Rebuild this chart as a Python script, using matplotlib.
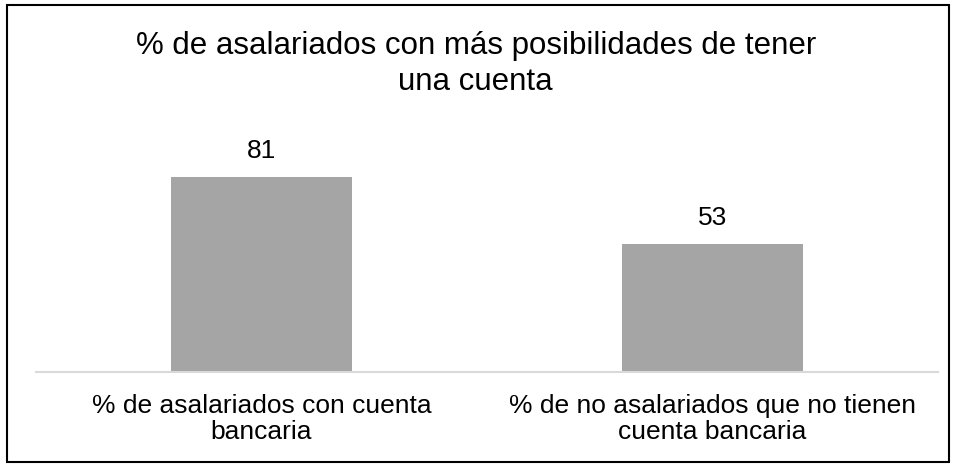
import matplotlib.pyplot as plt
from matplotlib.patches import Rectangle

plt.rcParams["font.family"] = ["Liberation Sans", "DejaVu Sans"]

categories = [
    "% de asalariados con cuenta\nbancaria",
    "% de no asalariados que no tienen\ncuenta bancaria",
]
values = [81, 53]
title = "% de asalariados con más posibilidades de tener\nuna cuenta"

W, H = 957, 466
fig = plt.figure(figsize=(W / 100, H / 100), dpi=100)

# plot area: baseline at y=372 px, from x=36 to x=938 px
ymax = 90
px_per_unit = 2.407
top_px = 372 - ymax * px_per_unit
ax = fig.add_axes([36 / W, 1 - 372 / H, (938 - 36) / W, (372 - top_px) / H])

x = range(len(values))
bars = ax.bar(x, values, width=0.4, color="#A5A5A5", zorder=2)
ax.set_xlim(-0.5, 1.5)
ax.set_ylim(0, ymax)

for rect, v in zip(bars, values):
    ax.annotate(str(v), (rect.get_x() + rect.get_width() / 2, v),
                xytext=(0, 13.7), textcoords="offset points",
                ha="center", va="baseline", fontsize=19, color="#000000")

ax.set_xticks(list(x))
ax.set_xticklabels(categories, fontsize=19, color="#000000", linespacing=1.08)
ax.tick_params(axis="x", length=0, pad=16)
ax.set_yticks([])
for side in ["top", "right", "left"]:
    ax.spines[side].set_visible(False)
ax.spines["bottom"].set_color("#D9D9D9")
ax.spines["bottom"].set_linewidth(1.5)

fig.text(0.497, 1 - 64 / H, title, ha="center", va="center",
         fontsize=22.5, linespacing=1.3, color="#000000")

# outer frame around the chart
fig.patches.append(Rectangle((7.5 / W, 1 - 462 / H), (949 - 7.5) / W, (462 - 5) / H,
                             transform=fig.transFigure, fill=False,
                             edgecolor="#000000", linewidth=1.5))

fig.savefig("out.png", dpi=100)
